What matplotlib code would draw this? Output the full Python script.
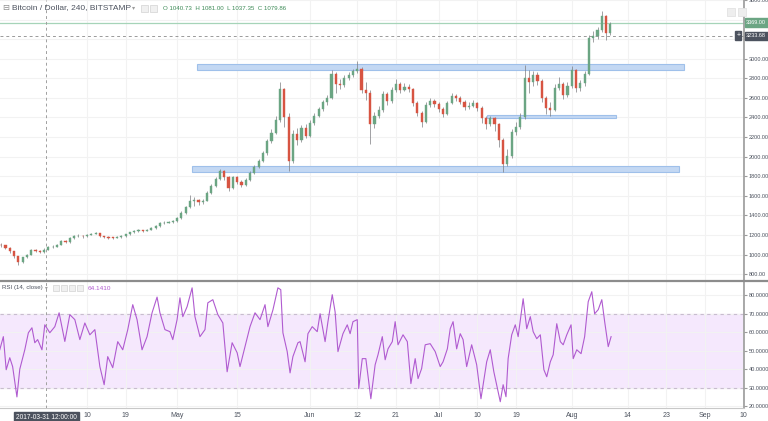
import matplotlib
matplotlib.use('Agg')
import matplotlib.pyplot as plt
import matplotlib.dates as mdates
import matplotlib.transforms as mtransforms
from matplotlib.patches import Rectangle
import pandas as pd

plt.rcParams['font.family'] = ['Liberation Sans', 'DejaVu Sans']

# daily candles, starting 2017-03-21
start_day = '2017-03-21'
first_open = 1100
closes = [1095, 1065, 1035, 985, 920, 972, 1000, 1045, 1038, 1030,
          1050, 1078, 1082, 1100, 1140, 1128, 1170, 1190, 1190, 1186,
          1204, 1215, 1220, 1185, 1178, 1173, 1172, 1178, 1188, 1208,
          1226, 1245, 1245, 1242, 1255, 1270, 1290, 1320, 1326, 1332,
          1340, 1372, 1425, 1485, 1550, 1560, 1535, 1550, 1630, 1705,
          1770, 1855, 1790, 1680, 1790, 1745, 1712, 1765, 1835, 1895,
          1960, 2035, 2155, 2245, 2370, 2690, 2400, 1960, 2235, 2175,
          2295, 2215, 2340, 2420, 2485, 2555, 2600, 2840, 2740, 2730,
          2800, 2835, 2870, 2900, 2680, 2650, 2330, 2420, 2480, 2640,
          2565, 2680, 2745, 2685, 2715, 2690, 2545, 2450, 2350, 2530,
          2565, 2540, 2490, 2440, 2550, 2620, 2600, 2560, 2510, 2520,
          2545, 2500, 2390, 2330, 2390, 2330, 2170, 1930, 2010, 2250,
          2300, 2400, 2800, 2760, 2830, 2770, 2600, 2500, 2480, 2700,
          2740, 2630, 2720, 2880, 2700, 2750, 2840, 3210, 3230, 3290,
          3440, 3260, 3350]
highs = [1120, 1100, 1075, 1040, 990, 980, 1010, 1055, 1060, 1045,
         1065, 1085, 1095, 1110, 1150, 1150, 1180, 1200, 1205, 1200,
         1212, 1225, 1232, 1225, 1192, 1185, 1182, 1188, 1196, 1215,
         1235, 1255, 1258, 1255, 1265, 1280, 1300, 1330, 1338, 1345,
         1352, 1385, 1440, 1500, 1610, 1585, 1570, 1570, 1645, 1720,
         1790, 1870, 1860, 1800, 1800, 1805, 1760, 1780, 1850, 1910,
         1975, 2060, 2180, 2280, 2420, 2760, 2700, 2450, 2270, 2290,
         2320, 2330, 2370, 2450, 2510, 2580, 2630, 2880, 2860, 2790,
         2830, 2860, 2900, 2980, 2920, 2760, 2680, 2460, 2520, 2670,
         2660, 2710, 2790, 2760, 2750, 2740, 2700, 2570, 2470, 2560,
         2600, 2590, 2560, 2510, 2570, 2650, 2640, 2620, 2580, 2560,
         2580, 2560, 2520, 2420, 2420, 2400, 2340, 2190, 2080, 2280,
         2350, 2450, 2940, 2880, 2870, 2860, 2790, 2620, 2560, 2740,
         2810, 2760, 2760, 2930, 2900, 2780, 2870, 3240, 3280, 3320,
         3490, 3450, 3380]
lows = [1080, 1055, 1020, 970, 890, 915, 960, 995, 1025, 1015,
        1020, 1045, 1070, 1075, 1095, 1115, 1120, 1160, 1175, 1172,
        1180, 1198, 1205, 1175, 1165, 1160, 1162, 1165, 1172, 1184,
        1202, 1220, 1235, 1232, 1236, 1250, 1262, 1285, 1312, 1318,
        1325, 1335, 1365, 1415, 1475, 1500, 1510, 1520, 1545, 1620,
        1695, 1760, 1760, 1650, 1670, 1720, 1690, 1700, 1755, 1820,
        1880, 1945, 2020, 2140, 2230, 2350, 2300, 1850, 1940, 2120,
        2150, 2190, 2200, 2320, 2400, 2470, 2530, 2590, 2650, 2690,
        2710, 2780, 2815, 2850, 2650, 2580, 2130, 2290, 2390, 2460,
        2530, 2550, 2660, 2650, 2670, 2660, 2520, 2420, 2300, 2340,
        2510, 2510, 2460, 2400, 2430, 2535, 2570, 2535, 2480, 2490,
        2510, 2470, 2340, 2280, 2310, 2260, 2100, 1840, 1900, 1990,
        2220, 2280, 2380, 2650, 2720, 2730, 2560, 2440, 2420, 2470,
        2680, 2590, 2610, 2700, 2660, 2670, 2720, 2830, 3170, 3200,
        3270, 3190, 3240]

# RSI(14) on 4h bars, bar number counted from 2017-03-20 00:00
rsi_start = '2017-03-20'
rsi_bars = [4, 9, 13, 18, 22, 28, 32, 39, 44, 49, 53, 57, 63, 67, 74, 81, 87, 95,
            102, 109, 116, 123, 130, 137, 144, 150, 155, 162, 169, 176, 183, 190,
            196, 203, 210, 217, 224, 228, 235, 242, 246, 252, 256, 260, 266, 273,
            277, 284, 291, 295, 302, 309, 316, 322, 329, 336, 340, 347, 354, 361,
            368, 375, 379, 386, 393, 397, 400, 406, 410, 414, 421, 424, 431, 435,
            441, 448, 452, 459, 463, 469, 473, 477, 484, 490, 494, 498, 504, 506,
            511, 516, 523, 529, 533, 539, 543, 547, 553, 557, 561, 568, 574, 579,
            585, 589, 594, 599, 606, 613, 620, 624, 630, 634, 638, 643, 648, 652,
            657, 664, 671, 677, 680, 685, 690, 695, 701, 704, 708, 712, 715, 720,
            725, 729, 734, 736, 741, 746, 750, 755, 760, 765, 769, 774, 778, 783,
            788, 792, 797, 803, 806, 811, 817, 822, 827, 832, 836, 841, 846, 850,
            855, 859]
rsi_values = [50.5, 57.6, 39.7, 46.2, 41.4, 25.0, 40.0, 50.5, 59.7, 62.4, 54.3, 56.0,
              50.5, 64.0, 59.7, 63.0, 70.5, 55.0, 69.5, 66.8, 56.0, 65.0, 58.6, 61.4,
              41.4, 31.6, 46.8, 40.8, 54.9, 50.5, 61.4, 74.9, 66.8, 50.5, 57.6, 70.5,
              79.0, 70.5, 61.4, 60.3, 56.0, 66.8, 78.6, 68.4, 73.8, 84.0, 68.4, 57.6,
              61.4, 75.9, 77.6, 69.5, 65.0, 38.6, 54.3, 48.9, 41.4, 52.2, 63.0, 70.5,
              66.8, 74.9, 63.0, 72.0, 84.0, 83.0, 59.7, 49.5, 38.0, 46.8, 54.3, 54.9,
              44.0, 59.2, 63.0, 60.3, 70.0, 54.9, 65.7, 80.3, 71.0, 49.5, 59.2, 64.0,
              59.2, 65.7, 66.8, 29.5, 45.7, 45.7, 24.0, 42.4, 47.8, 57.6, 45.1, 51.0,
              54.9, 65.7, 53.2, 58.6, 54.9, 32.2, 45.7, 34.9, 40.3, 53.2, 53.8, 49.5,
              41.4, 44.0, 51.0, 61.9, 65.7, 51.0, 59.2, 56.0, 41.4, 53.2, 42.4, 24.0,
              31.6, 44.0, 50.5, 38.6, 27.8, 22.4, 31.6, 25.1, 45.7, 58.6, 64.0, 57.6,
              72.2, 78.1, 61.9, 68.4, 60.3, 56.5, 58.6, 39.7, 35.9, 44.0, 47.8, 64.6,
              54.9, 53.2, 58.6, 64.0, 45.7, 50.5, 48.4, 57.6, 76.5, 81.9, 70.0, 72.2,
              77.6, 65.7, 52.2, 57.6]

# drawn support/resistance boxes: start, end, low price, high price
zone_starts = ['2017-05-05 14:00', '2017-07-12 05:00', '2017-05-04 12:00']
zone_ends = ['2017-08-27 05:00', '2017-08-11 07:00', '2017-08-26 00:00']
zone_lows = [2890, 2395, 1840]
zone_highs = [2945, 2430, 1900]

last_price = 3369.00
cross_price = 3233.68
cross_time = '2017-03-31 12:00'

tick_dates = ['2017-04-10', '2017-04-19', '2017-05-01', '2017-05-15', '2017-06-01',
              '2017-06-12', '2017-06-21', '2017-07-01', '2017-07-10', '2017-07-19',
              '2017-08-01', '2017-08-14', '2017-08-23', '2017-09-01', '2017-09-10']
tick_labels = ['10', '19', 'May', '15', 'Jun', '12', '21', 'Jul', '10', '19',
               'Aug', '14', '23', 'Sep', '10']

TXT = '#4c525e'
GRID = '#f2f2f2'
UP = '#6ba583'
DOWN = '#d75442'
RSI_C = '#b05bd0'

W, H = 768, 421
fig = plt.figure(figsize=(W / 100, H / 100), dpi=100)
fig.patch.set_facecolor('white')

right = 744 / W
ax = fig.add_axes([0, 1 - 281 / H, right, 281 / H])
ax2 = fig.add_axes([0, 1 - 408 / H, right, 127 / H], sharex=ax)

# candles
days = mdates.date2num(pd.date_range(start_day, periods=len(closes), freq='D'))
opens = [first_open] + closes[:-1]
for x, o, c, hi, lo in zip(days, opens, closes, highs, lows):
    col = UP if c >= o else DOWN
    ax.vlines(x, lo, hi, color='#7c7c80', lw=0.5, zorder=3)
    ax.bar(x, max(abs(c - o), 4), bottom=min(o, c), width=0.5, color=col,
           edgecolor=col, lw=0.3, zorder=4)

for s, e, lo, hi in zip(zone_starts, zone_ends, zone_lows, zone_highs):
    x0 = mdates.date2num(pd.Timestamp(s))
    x1 = mdates.date2num(pd.Timestamp(e))
    ax.add_patch(Rectangle((x0, lo), x1 - x0, hi - lo, facecolor='#c3d8f3',
                           edgecolor='#9fc0ea', lw=0.8, zorder=2))

ax.axhline(last_price, color='#a6d4b8', lw=0.9, zorder=1)
ax.axhline(cross_price, color='#9a9a9a', lw=0.7, ls=(0, (3, 3)), zorder=1)

ax.set_ylim(730, 3600)
ax.set_yticks(range(800, 3601, 200))
ax.yaxis.set_major_formatter(plt.FuncFormatter(lambda v, p: f'{v:.2f}'))

# rsi
rsi_times = [mdates.date2num(pd.Timestamp(rsi_start) + pd.Timedelta(hours=4 * b))
             for b in rsi_bars]
ax2.axhspan(30, 70, color='#f5e8fd', zorder=0)
ax2.axhline(70, color='#c8bccf', lw=0.8, ls=(0, (3, 3)), zorder=1)
ax2.axhline(30, color='#c8bccf', lw=0.8, ls=(0, (3, 3)), zorder=1)
ax2.plot(rsi_times, rsi_values, color=RSI_C, lw=0.8, zorder=3)
ax2.set_ylim(19, 87.7)
ax2.set_yticks(range(20, 81, 10))
ax2.yaxis.set_major_formatter(plt.FuncFormatter(lambda v, p: f'{v:.4f}'))

x_lo = mdates.date2num(pd.Timestamp('2017-03-20 17:20'))
x_hi = mdates.date2num(pd.Timestamp('2017-09-10 03:30'))
ax.set_xlim(x_lo, x_hi)
ticks = [mdates.date2num(pd.Timestamp(d)) for d in tick_dates]
ax2.set_xticks(ticks)
ax2.set_xticklabels(tick_labels)

for a in (ax, ax2):
    a.set_facecolor('white')
    a.yaxis.tick_right()
    a.grid(True, color=GRID, lw=0.8, zorder=0)
    a.set_axisbelow(True)
    for sp in ('left', 'top', 'bottom'):
        a.spines[sp].set_visible(False)
    a.spines['right'].set_color('#9b9b9b')
    a.spines['right'].set_linewidth(1.2)
    a.tick_params(axis='y', labelsize=4.0, colors='#9b9b9b', labelcolor=TXT,
                  length=2.5, width=0.8, pad=0.8)
    a.axvline(mdates.date2num(pd.Timestamp(cross_time)), color='#a0a0a0', lw=0.7,
              ls=(0, (3, 3)), zorder=5)
ax.tick_params(axis='x', length=0, labelbottom=False)
ax2.tick_params(axis='x', labelsize=5, labelcolor=TXT, length=0, pad=3)
ax2.spines['bottom'].set_visible(True)
ax2.spines['bottom'].set_color('#c8c8c8')

# panel separator
fig.add_artist(plt.Line2D([0, 1], [1 - 281 / H, 1 - 281 / H], color='#8c8c8c',
                          lw=1.6, transform=fig.transFigure))

# header texts
fig.text(2 / W, 1 - 8 / H, '⊟', fontsize=6, color='#8c8c8c', va='center',
         family='DejaVu Sans')
fig.text(12 / W, 1 - 8 / H, 'Bitcoin / Dollar, 240, BITSTAMP', fontsize=6,
         color=TXT, va='center')
fig.text(132 / W, 1 - 8 / H, '▾', fontsize=4.5, color='#9b9b9b', va='center',
         family='DejaVu Sans')
for xp in (141, 150):
    fig.add_artist(Rectangle((xp / W, 1 - 12 / H), 7 / W, 7 / H, facecolor='#f0f0f0',
                             edgecolor='#d8d8d8', lw=0.6, transform=fig.transFigure))
for xp in (727, 738):
    fig.add_artist(Rectangle((xp / W, 1 - 16 / H), 8 / W, 8 / H, facecolor='#eeeeee',
                             edgecolor='#e2e2e2', lw=0.6, transform=fig.transFigure))
fig.text(163 / W, 1 - 8 / H, 'O 1040.73  H 1081.00  L 1037.35  C 1079.86',
         fontsize=4.4, color='#3c8a56', va='center')
fig.text(2 / W, 1 - 288 / H, 'RSI (14, close)', fontsize=4.4, color=TXT, va='center')
fig.text(45 / W, 1 - 288 / H, '▾', fontsize=4, color='#9b9b9b', va='center',
         family='DejaVu Sans')
for xp in (53, 61, 69, 77):
    fig.add_artist(Rectangle((xp / W, 1 - 291 / H), 6 / W, 6 / H, facecolor='#f0f0f0',
                             edgecolor='#d8d8d8', lw=0.6, transform=fig.transFigure))
fig.text(88 / W, 1 - 288 / H, '64.1410', fontsize=4.6, color=RSI_C, va='center')

# price scale labels
tr = mtransforms.blended_transform_factory(ax.transAxes, ax.transData)
ax.text(1.003, last_price, '3369.00', transform=tr, fontsize=4.0, color='white',
        va='center', ha='left', zorder=10, clip_on=False,
        bbox=dict(boxstyle='square,pad=0.3', fc=UP, ec=UP))
ax.text(1.003, cross_price, '3233.68', transform=tr, fontsize=4.0, color='white',
        va='center', ha='left', zorder=10, clip_on=False,
        bbox=dict(boxstyle='square,pad=0.3', fc='#4c525e', ec='#4c525e'))
ax.text(0.995, cross_price, '+', transform=tr, fontsize=5, color='white',
        va='center', ha='right', zorder=10, clip_on=False,
        bbox=dict(boxstyle='square,pad=0.15', fc='#4c525e', ec='#4c525e'))

# crosshair time label
ax2.text(mdates.date2num(pd.Timestamp(cross_time)), -0.045, '2017-03-31 12:00:00',
         transform=mtransforms.blended_transform_factory(ax2.transData, ax2.transAxes),
         fontsize=4.8, color='white', ha='center', va='top', zorder=10, clip_on=False,
         bbox=dict(boxstyle='square,pad=0.3', fc='#4c525e', ec='#4c525e'))

fig.savefig('out.png', dpi=100)
